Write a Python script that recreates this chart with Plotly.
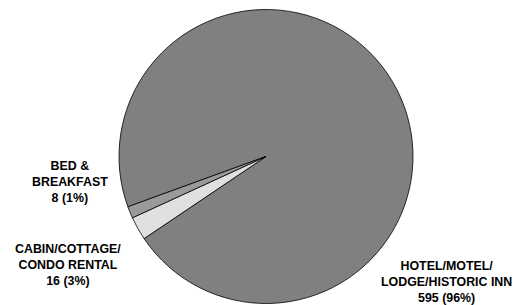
import plotly.graph_objects as go

categories = ["HOTEL/MOTEL/<br>LODGE/HISTORIC INN", "CABIN/COTTAGE/<br>CONDO RENTAL", "BED &<br>BREAKFAST"]
values = [595, 16, 8]
colors = ["#808080", "#e0e0e0", "#9a9a9a"]

# label anchor positions (paper coords)
label_x = [0.871, 0.133, 0.137]
label_y = [0.076, 0.131, 0.403]

total = sum(values)

fig = go.Figure(go.Pie(
    labels=categories,
    values=values,
    sort=False,
    direction="clockwise",
    rotation=250,
    textinfo="none",
    hoverinfo="label+value+percent",
    marker=dict(colors=colors, line=dict(color="#000000", width=0.8)),
    domain=dict(x=[119 / 513, 413 / 513], y=[1.5 / 305, 295.5 / 305]),
    showlegend=False,
))

annotations = []
for cat, v, x, y in zip(categories, values, label_x, label_y):
    pct = round(100 * v / total)
    annotations.append(dict(
        x=x, y=y, xref="paper", yref="paper",
        text=f"<b>{cat}<br>{v} ({pct}%)</b>",
        showarrow=False, xanchor="center", yanchor="middle", align="center",
        font=dict(family="Liberation Sans, Arial, sans-serif", size=12.4, color="#000000"),
    ))

fig.update_layout(
    width=513, height=305,
    margin=dict(l=0, r=0, t=0, b=0),
    paper_bgcolor="#ffffff", plot_bgcolor="#ffffff",
    annotations=annotations,
)

fig.write_html(
    "out.html",
    config={"displayModeBar": False},
    post_script="document.body.style.margin='0';document.body.style.padding='0';",
)
